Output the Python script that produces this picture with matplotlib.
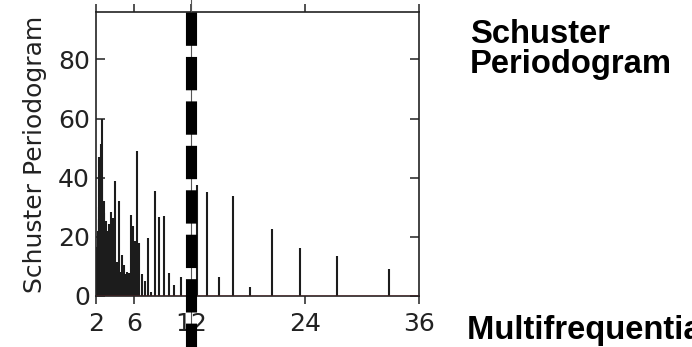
import matplotlib
matplotlib.use("Agg")
import matplotlib.pyplot as plt

# Periods (in samples) of the Fourier frequencies between 2 and 36
periods = [32.8, 27.33, 23.43, 20.5, 18.22, 16.4, 14.91, 13.67, 12.62, 11.71,
           10.93, 10.25, 9.65, 9.11, 8.63, 8.2, 7.81, 7.45, 7.13, 6.83,
           6.56, 6.31, 6.07, 5.86, 5.66, 5.47, 5.29, 5.13, 4.97, 4.82,
           4.69, 4.56, 4.43, 4.32, 4.21, 4.1, 4.0, 3.9, 3.81, 3.73,
           3.64, 3.57, 3.49, 3.42, 3.35, 3.28, 3.22, 3.15, 3.09, 3.04,
           2.98, 2.93, 2.88, 2.83, 2.78, 2.73, 2.69, 2.65, 2.6, 2.56,
           2.52, 2.48, 2.45, 2.41, 2.38, 2.34, 2.31, 2.28, 2.25, 2.22,
           2.19, 2.16, 2.13, 2.1, 2.08, 2.05, 2.02, 2.0]

# Schuster periodogram ordinates for each period
power = [9.0, 13.4, 16.3, 22.7, 3.2, 33.9, 6.3, 35.0, 37.6, 4.0,
         6.3, 3.7, 7.9, 27.2, 26.7, 35.5, 1.5, 19.5, 5.1, 7.5,
         18.0, 49.0, 18.6, 23.6, 27.4, 7.7, 8.0, 7.5, 10.5, 5.0,
         13.8, 8.0, 32.0, 7.0, 11.5, 8.5, 39.0, 7.0, 26.5, 6.0,
         9.0, 28.5, 8.0, 24.5, 12.0, 22.0, 9.0, 21.0, 25.5, 10.0,
         14.0, 22.0, 28.0, 32.0, 12.0, 16.0, 22.0, 60.0, 40.0, 25.0,
         20.0, 51.5, 30.0, 22.0, 36.0, 26.0, 47.0, 30.0, 22.0, 15.0,
         12.0, 17.0, 9.0, 16.5, 8.0, 13.0, 6.0, 10.0]

period_ticks = [2, 6, 12, 24, 36]
power_ticks = [0, 20, 40, 60, 80]
marked_period = 12

fig = plt.figure(figsize=(6.92, 3.47), dpi=100)
ax = fig.add_axes([0.1387, 0.147, 0.4668, 0.8184])

ax.vlines(periods, 0, power, colors="#1c1c1c", linewidth=1.5)
ax.axhline(0, color="#9b2226", linewidth=1.0, zorder=3)

# thin guide at the marked period running over the whole figure
ax.plot([marked_period, marked_period], [-25, 110], color="#555555",
        linewidth=0.8, clip_on=False, zorder=4)
# thick dashed marker
ax.plot([marked_period, marked_period], [96, -20], color="black",
        linewidth=8, dashes=(3, 1), clip_on=False, zorder=5)

ax.set_xlim(2, 36)
ax.set_ylim(0, 96)
ax.set_xticks(period_ticks)
ax.set_yticks(power_ticks)

for side in ["left", "right", "top", "bottom"]:
    ax.spines[side].set_linewidth(1.2)
    ax.spines[side].set_color("#222222")

ax.tick_params(axis="x", direction="out", length=5.8, width=1.1, pad=5.5,
               top=True, labelsize=18, labelcolor="#222222", color="#222222")
ax.tick_params(axis="y", direction="in", length=6.5, width=1.1, pad=4.3,
               right=True, labelsize=18, labelcolor="#222222", color="#222222")
ax.set_ylabel("Schuster Periodogram", fontsize=18, color="#222222", labelpad=8)

fig.text(0.679, 0.876, "Schuster", fontsize=23.6, fontweight="bold",
         family="Liberation Sans", va="baseline")
fig.text(0.679, 0.7896, "Periodogram", fontsize=23.6, fontweight="bold",
         family="Liberation Sans", va="baseline")
fig.text(0.675, 0.023, "Multifrequential Periodogram", fontsize=23.6,
         fontweight="bold", family="Liberation Sans", va="baseline")

fig.savefig("out.png", dpi=100)
